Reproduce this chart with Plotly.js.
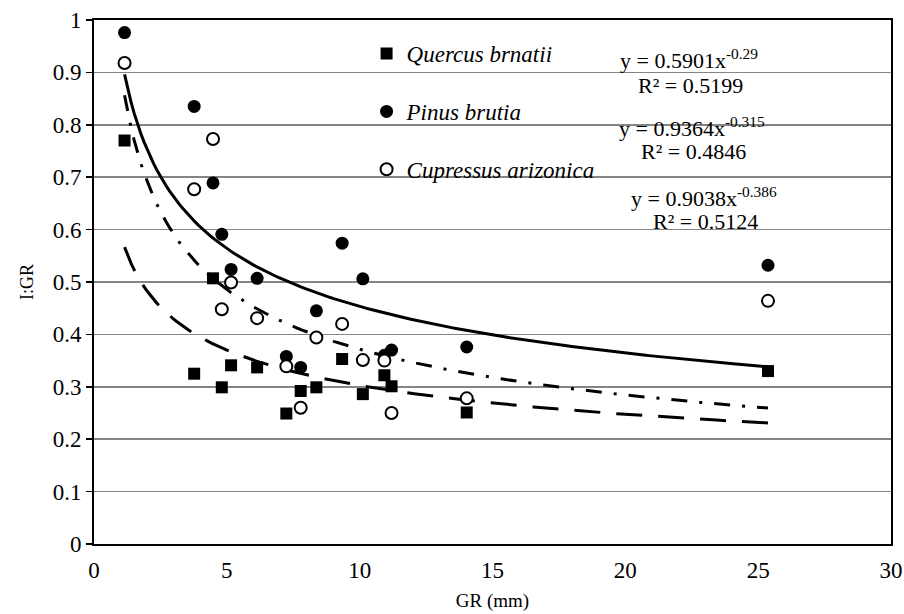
<!DOCTYPE html>
<html>
<head>
<meta charset="utf-8">
<script src="https://cdn.plot.ly/plotly-3.0.1.min.js"></script>
<style>html,body{margin:0;padding:0;background:#fff;} #chart{width:904px;height:614px;}</style>
</head>
<body>
<div id="chart"></div>
<script>
// Data
const grMm = [1.15, 3.77, 4.48, 4.81, 5.16, 6.14, 7.24, 7.78, 8.37, 9.34, 10.12, 10.93, 11.2, 14.03, 25.37];
const quercus = [0.770, 0.325, 0.507, 0.299, 0.341, 0.337, 0.249, 0.292, 0.299, 0.353, 0.286, 0.322, 0.301, 0.251, 0.330];
const pinus = [0.976, 0.835, 0.689, 0.591, 0.524, 0.507, 0.358, 0.337, 0.445, 0.574, 0.506, 0.360, 0.370, 0.376, 0.532];
const cupressus = [0.918, 0.677, 0.773, 0.448, 0.499, 0.431, 0.339, 0.260, 0.394, 0.420, 0.351, 0.350, 0.250, 0.278, 0.464];

const seriesNames = ["Quercus brnatii", "Pinus brutia", "Cupressus arizonica"];
// Power trendline coefficients printed on the chart (y = a * x^b)
const fitA = [0.5901, 0.9364, 0.9038];
const fitB = [-0.29, -0.315, -0.386];
const eqLabels = ["y = 0.5901x<sup>-0.29</sup>", "y = 0.9364x<sup>-0.315</sup>", "y = 0.9038x<sup>-0.386</sup>"];
const r2Labels = ["R² = 0.5199", "R² = 0.4846", "R² = 0.5124"];
const xTicks = [0, 5, 10, 15, 20, 25, 30];
const yTicks = [0, 0.1, 0.2, 0.3, 0.4, 0.5, 0.6, 0.7, 0.8, 0.9, 1];

const FONT = "Liberation Serif";

function trend(a, b) {
  const xmin = Math.min(...grMm), xmax = Math.max(...grMm);
  const xs = [], ys = [];
  const n = 200;
  for (let i = 0; i <= n; i++) {
    const x = xmin + (xmax - xmin) * i / n;
    xs.push(x); ys.push(a * Math.pow(x, b));
  }
  return {xs, ys};
}

const tQ = trend(fitA[0], fitB[0]);
const tP = trend(fitA[1], fitB[1]);
const tC = trend(fitA[2], fitB[2]);

const traces = [
  {x: tQ.xs, y: tQ.ys, mode: "lines", line: {color: "#000", width: 3, dash: "26px,16px"}, showlegend: false, hoverinfo: "skip"},
  {x: tC.xs, y: tC.ys, mode: "lines", line: {color: "#000", width: 3, dash: "16px,12px,3px,12px"}, showlegend: false, hoverinfo: "skip"},
  {x: tP.xs, y: tP.ys, mode: "lines", line: {color: "#000", width: 3}, showlegend: false, hoverinfo: "skip"},
  {x: grMm, y: quercus, name: seriesNames[0], mode: "markers", legendgroup: "q",
   marker: {symbol: "square", size: 12, color: "#000"}},
  {x: grMm, y: pinus, name: seriesNames[1], mode: "markers", legendgroup: "p",
   marker: {symbol: "circle", size: 13, color: "#000"}},
  {x: grMm, y: cupressus, name: seriesNames[2], mode: "markers", legendgroup: "c",
   marker: {symbol: "circle", size: 12, color: "#fff", line: {color: "#000", width: 2}}}
];

const eqX = [22.4, 22.5, 22.95];
const eqY = [0.925, 0.796, 0.663];
const r2X = [22.46, 22.58, 23.03];
const r2Y = [0.875, 0.749, 0.615];
const annotations = [];
for (let i = 0; i < 3; i++) {
  annotations.push({x: eqX[i], y: eqY[i], xref: "x", yref: "y", text: eqLabels[i], showarrow: false,
    font: {family: FONT, size: 22, color: "#000"}});
  annotations.push({x: r2X[i], y: r2Y[i], xref: "x", yref: "y", text: r2Labels[i], showarrow: false,
    font: {family: FONT, size: 22, color: "#000"}});
}

const layout = {
  width: 904, height: 614,
  margin: {l: 94, r: 13, t: 20, b: 70, pad: 0},
  paper_bgcolor: "#fff", plot_bgcolor: "#fff",
  font: {family: FONT, color: "#000"},
  showlegend: true,
  legend: {
    x: 0.342, y: 0.977, xanchor: "left", yanchor: "top",
    bgcolor: "rgba(0,0,0,0)", borderwidth: 0,
    font: {family: FONT, size: 23, style: "italic", color: "#000"},
    tracegroupgap: 25, itemwidth: 30
  },
  xaxis: {
    range: [0, 30], tickvals: xTicks, ticktext: xTicks.map(String),
    showgrid: false, zeroline: false,
    showline: true, linecolor: "#000", linewidth: 2, mirror: true,
    ticks: "outside", ticklen: 4, tickcolor: "rgba(0,0,0,0)",
    tickfont: {family: FONT, size: 23, color: "#000"},
    title: {text: "GR (mm)", font: {family: FONT, size: 19, color: "#000"}, standoff: 12}
  },
  yaxis: {
    range: [0, 1], tickvals: yTicks, ticktext: yTicks.map(String),
    showgrid: true, gridcolor: "#858585", gridwidth: 1.5,
    zeroline: false,
    showline: true, linecolor: "#000", linewidth: 2, mirror: true,
    ticks: "outside", ticklen: 6, tickwidth: 1.5, tickcolor: "#000",
    tickfont: {family: FONT, size: 23, color: "#000"},
    title: {text: "I:GR", font: {family: FONT, size: 18, color: "#000"}, standoff: 14}
  },
  annotations: annotations
};

Plotly.newPlot("chart", traces, layout, {displayModeBar: false, staticPlot: true});
</script>
</body>
</html>
